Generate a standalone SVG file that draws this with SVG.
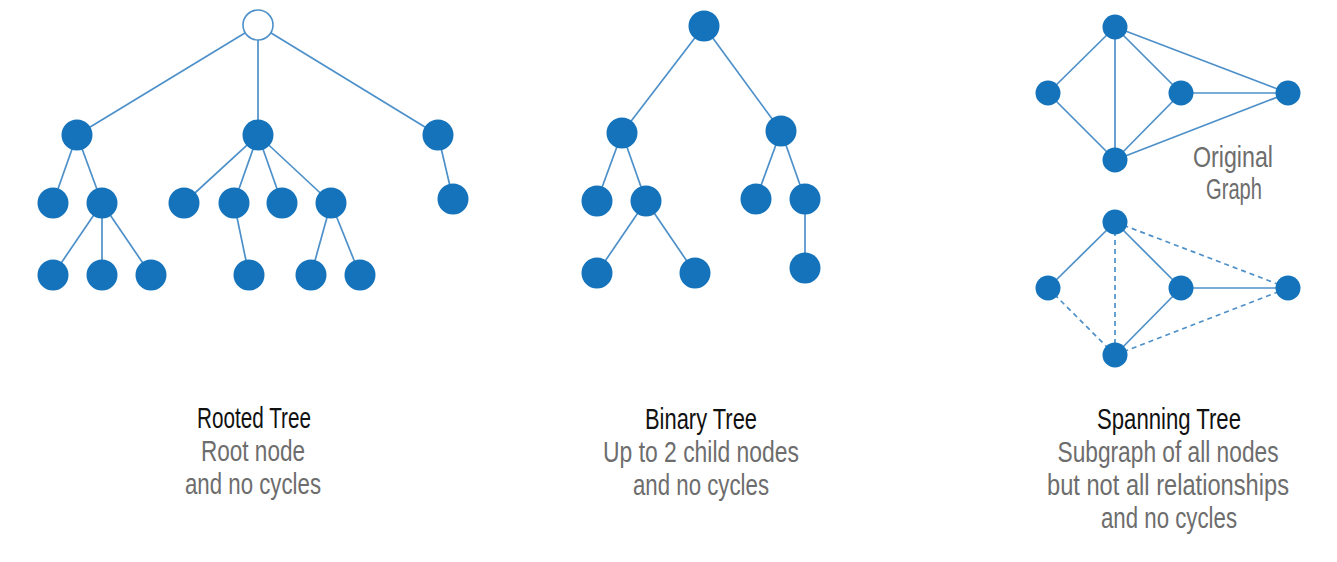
<svg xmlns="http://www.w3.org/2000/svg" width="1337" height="562" viewBox="0 0 1337 562">
  <style>
    .node { fill: #1473ba; }
    .sm { fill: #1473ba; }
    .root { fill: #ffffff; stroke: #4d90c9; stroke-width: 1.6; }
    .edge { stroke: #4d90c9; stroke-width: 1.7; fill: none; }
    .dash { stroke: #4d90c9; stroke-width: 1.7; fill: none; stroke-dasharray: 5 4; }
    .title { font-family: "Liberation Sans Narrow", "Liberation Sans", Arial, sans-serif; font-size: 29px; fill: #111111; text-anchor: middle; }
    .sub { font-family: "Liberation Sans Narrow", "Liberation Sans", Arial, sans-serif; font-size: 29px; fill: #6d6d6d; text-anchor: middle; }
  </style>
  <rect width="1337" height="562" fill="#ffffff"/>

  <!-- connectors -->
  <g id="connectors">
    <!-- rooted tree -->
    <line class="edge" x1="258" y1="25" x2="77" y2="135"/>
    <line class="edge" x1="258" y1="25" x2="258" y2="135"/>
    <line class="edge" x1="258" y1="25" x2="438" y2="135"/>
    <line class="edge" x1="77" y1="135" x2="53" y2="203"/>
    <line class="edge" x1="77" y1="135" x2="102" y2="203"/>
    <line class="edge" x1="102" y1="203" x2="53" y2="275"/>
    <line class="edge" x1="102" y1="203" x2="102" y2="275"/>
    <line class="edge" x1="102" y1="203" x2="151" y2="275"/>
    <line class="edge" x1="258" y1="135" x2="184" y2="203"/>
    <line class="edge" x1="258" y1="135" x2="234" y2="203"/>
    <line class="edge" x1="258" y1="135" x2="282" y2="203"/>
    <line class="edge" x1="258" y1="135" x2="331" y2="203"/>
    <line class="edge" x1="234" y1="203" x2="249" y2="275"/>
    <line class="edge" x1="331" y1="203" x2="311" y2="275"/>
    <line class="edge" x1="331" y1="203" x2="360" y2="275"/>
    <line class="edge" x1="438" y1="135" x2="453" y2="199"/>
    <!-- binary tree -->
    <line class="edge" x1="704" y1="26" x2="622" y2="133"/>
    <line class="edge" x1="704" y1="26" x2="781" y2="131"/>
    <line class="edge" x1="622" y1="133" x2="597" y2="201"/>
    <line class="edge" x1="622" y1="133" x2="646" y2="201"/>
    <line class="edge" x1="646" y1="201" x2="597" y2="273"/>
    <line class="edge" x1="646" y1="201" x2="695" y2="273"/>
    <line class="edge" x1="781" y1="131" x2="756" y2="199"/>
    <line class="edge" x1="781" y1="131" x2="805" y2="199"/>
    <line class="edge" x1="805" y1="199" x2="805" y2="268"/>
    <!-- original graph -->
    <line class="edge" x1="1115" y1="27" x2="1048" y2="93"/>
    <line class="edge" x1="1115" y1="27" x2="1115" y2="160"/>
    <line class="edge" x1="1115" y1="27" x2="1181" y2="93"/>
    <line class="edge" x1="1115" y1="27" x2="1288" y2="93"/>
    <line class="edge" x1="1048" y1="93" x2="1115" y2="160"/>
    <line class="edge" x1="1181" y1="93" x2="1115" y2="160"/>
    <line class="edge" x1="1181" y1="93" x2="1288" y2="93"/>
    <line class="edge" x1="1115" y1="160" x2="1288" y2="93"/>
    <!-- spanning tree -->
    <line class="edge" x1="1115" y1="222" x2="1048" y2="288"/>
    <line class="dash" x1="1115" y1="222" x2="1115" y2="355"/>
    <line class="edge" x1="1115" y1="222" x2="1181" y2="288"/>
    <line class="dash" x1="1115" y1="222" x2="1288" y2="288"/>
    <line class="dash" x1="1048" y1="288" x2="1115" y2="355"/>
    <line class="edge" x1="1181" y1="288" x2="1115" y2="355"/>
    <line class="edge" x1="1181" y1="288" x2="1288" y2="288"/>
    <line class="dash" x1="1115" y1="355" x2="1288" y2="288"/>
  </g>

  <!-- rooted tree nodes -->
  <g id="rooted-root"><circle class="root" cx="258" cy="25" r="15"/></g>
  <g id="rooted-a"><circle class="node" cx="77" cy="135" r="15.5"/></g>
  <g id="rooted-b"><circle class="node" cx="258" cy="135" r="15.5"/></g>
  <g id="rooted-c"><circle class="node" cx="438" cy="135" r="15.5"/></g>
  <g id="rooted-a1"><circle class="node" cx="53" cy="203" r="15.5"/></g>
  <g id="rooted-a2"><circle class="node" cx="102" cy="203" r="15.5"/></g>
  <g id="rooted-b1"><circle class="node" cx="184" cy="203" r="15.5"/></g>
  <g id="rooted-b2"><circle class="node" cx="234" cy="203" r="15.5"/></g>
  <g id="rooted-b3"><circle class="node" cx="282" cy="203" r="15.5"/></g>
  <g id="rooted-b4"><circle class="node" cx="331" cy="203" r="15.5"/></g>
  <g id="rooted-c1"><circle class="node" cx="453" cy="199" r="15.5"/></g>
  <g id="rooted-a2a"><circle class="node" cx="53" cy="275" r="15.5"/></g>
  <g id="rooted-a2b"><circle class="node" cx="102" cy="275" r="15.5"/></g>
  <g id="rooted-a2c"><circle class="node" cx="151" cy="275" r="15.5"/></g>
  <g id="rooted-b2a"><circle class="node" cx="249" cy="275" r="15.5"/></g>
  <g id="rooted-b4a"><circle class="node" cx="311" cy="275" r="15.5"/></g>
  <g id="rooted-b4b"><circle class="node" cx="360" cy="275" r="15.5"/></g>

  <!-- binary tree nodes -->
  <g id="binary-root"><circle class="node" cx="704" cy="26" r="15.5"/></g>
  <g id="binary-l"><circle class="node" cx="622" cy="133" r="15.5"/></g>
  <g id="binary-r"><circle class="node" cx="781" cy="131" r="15.5"/></g>
  <g id="binary-ll"><circle class="node" cx="597" cy="201" r="15.5"/></g>
  <g id="binary-lr"><circle class="node" cx="646" cy="201" r="15.5"/></g>
  <g id="binary-rl"><circle class="node" cx="756" cy="199" r="15.5"/></g>
  <g id="binary-rr"><circle class="node" cx="805" cy="199" r="15.5"/></g>
  <g id="binary-lrl"><circle class="node" cx="597" cy="273" r="15.5"/></g>
  <g id="binary-lrr"><circle class="node" cx="695" cy="273" r="15.5"/></g>
  <g id="binary-rrl"><circle class="node" cx="805" cy="268" r="15.5"/></g>

  <!-- original graph nodes -->
  <g id="graph-top"><circle class="sm" cx="1115" cy="27" r="12.5"/></g>
  <g id="graph-left"><circle class="sm" cx="1048" cy="93" r="12.5"/></g>
  <g id="graph-mid"><circle class="sm" cx="1181" cy="93" r="12.5"/></g>
  <g id="graph-right"><circle class="sm" cx="1288" cy="93" r="12.5"/></g>
  <g id="graph-bottom"><circle class="sm" cx="1115" cy="160" r="12.5"/></g>

  <!-- spanning tree nodes -->
  <g id="span-top"><circle class="sm" cx="1115" cy="222" r="12.5"/></g>
  <g id="span-left"><circle class="sm" cx="1048" cy="288" r="12.5"/></g>
  <g id="span-mid"><circle class="sm" cx="1181" cy="288" r="12.5"/></g>
  <g id="span-right"><circle class="sm" cx="1288" cy="288" r="12.5"/></g>
  <g id="span-bottom"><circle class="sm" cx="1115" cy="355" r="12.5"/></g>

  <!-- labels -->
  <g id="label-original">
    <text class="sub" x="1233" y="167" textLength="80" lengthAdjust="spacingAndGlyphs">Original</text>
    <text class="sub" x="1234" y="199" textLength="56" lengthAdjust="spacingAndGlyphs">Graph</text>
  </g>
  <g id="label-rooted">
    <text class="title" x="254" y="428" textLength="114" lengthAdjust="spacingAndGlyphs">Rooted Tree</text>
    <text class="sub" x="253" y="461" textLength="104" lengthAdjust="spacingAndGlyphs">Root node</text>
    <text class="sub" x="253" y="494" textLength="136" lengthAdjust="spacingAndGlyphs">and no cycles</text>
  </g>
  <g id="label-binary">
    <text class="title" x="701" y="429" textLength="112" lengthAdjust="spacingAndGlyphs">Binary Tree</text>
    <text class="sub" x="701" y="462" textLength="196" lengthAdjust="spacingAndGlyphs">Up to 2 child nodes</text>
    <text class="sub" x="701" y="495" textLength="136" lengthAdjust="spacingAndGlyphs">and no cycles</text>
  </g>
  <g id="label-spanning">
    <text class="title" x="1169" y="429" textLength="144" lengthAdjust="spacingAndGlyphs">Spanning Tree</text>
    <text class="sub" x="1168" y="462" textLength="221" lengthAdjust="spacingAndGlyphs">Subgraph of all nodes</text>
    <text class="sub" x="1168" y="495" textLength="242" lengthAdjust="spacingAndGlyphs">but not all relationships</text>
    <text class="sub" x="1169" y="528" textLength="136" lengthAdjust="spacingAndGlyphs">and no cycles</text>
  </g>
</svg>
